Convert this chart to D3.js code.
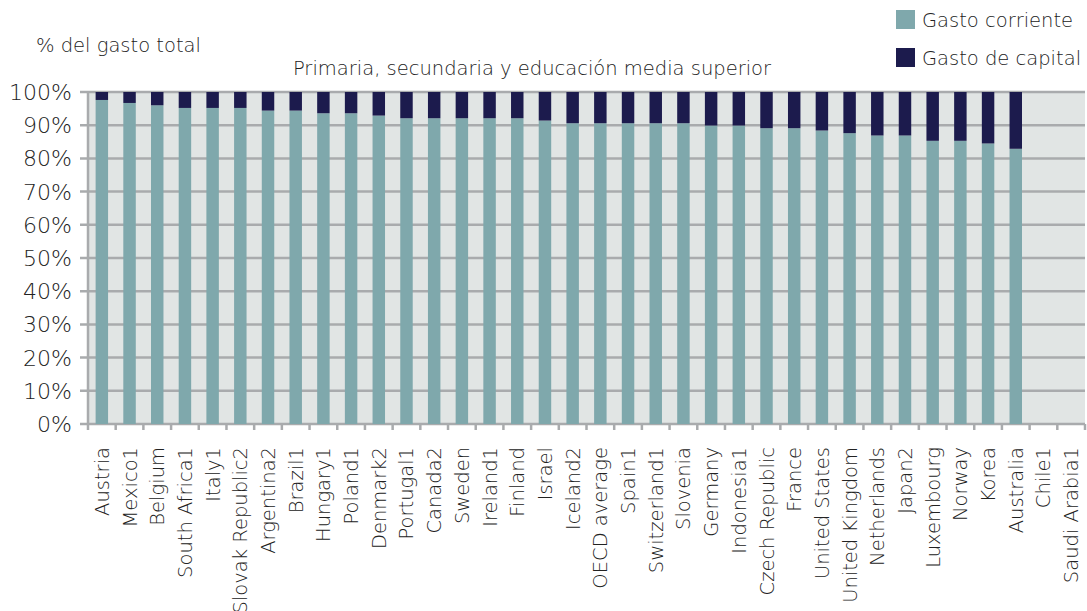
<!DOCTYPE html>
<html>
<head>
<meta charset="utf-8">
<script src="https://cdn.jsdelivr.net/npm/d3@7/dist/d3.min.js"></script>
<style>
  body { margin: 0; background: #fff; }
  svg text { font-family: 'DejaVu Sans', sans-serif; font-weight: 200; fill: #222; }
</style>
</head>
<body>
<svg id="chart" width="1087" height="611"></svg>
<script>
(function() {
    'use strict';

    var countries = ['Austria', 'Mexico1', 'Belgium', 'South Africa1', 'Italy1', 'Slovak Republic2',
        'Argentina2', 'Brazil1', 'Hungary1', 'Poland1', 'Denmark2', 'Portugal1', 'Canada2', 'Sweden',
        'Ireland1', 'Finland', 'Israel', 'Iceland2', 'OECD average', 'Spain1', 'Switzerland1', 'Slovenia',
        'Germany', 'Indonesia1', 'Czech Republic', 'France', 'United States', 'United Kingdom',
        'Netherlands', 'Japan2', 'Luxembourg', 'Norway', 'Korea', 'Australia', 'Chile1', 'Saudi Arabia1'];

    // gasto corriente, % del gasto total (null = sin dato)
    var corriente = [97.6, 96.7, 96.0, 95.2, 95.2, 95.2, 94.4, 94.4, 93.6, 93.6, 92.9, 92.1, 92.1, 92.1,
        92.1, 92.1, 91.4, 90.6, 90.6, 90.6, 90.6, 90.6, 89.9, 89.9, 89.1, 89.1, 88.4, 87.6, 86.9, 86.9,
        85.3, 85.3, 84.5, 82.9, null, null];

    var yTicks = [0, 10, 20, 30, 40, 50, 60, 70, 80, 90, 100];
    var seriesNames = ['Gasto corriente', 'Gasto de capital'];
    var colors = ['#7fa8ac', '#1c1b4d'];

    var margin = {top: 92, left: 88, right: 2, bottom: 188};
    var W = 1087, H = 611;

    var svg = d3.select('#chart');

    var x = d3.scaleBand()
        .domain(countries)
        .range([margin.left, W - margin.right])
        .paddingInner(0.55)
        .paddingOuter(0.275);

    var xb = d3.scaleBand()
        .domain(countries)
        .range([margin.left, W - margin.right]);

    var y = d3.scaleLinear()
        .domain([0, 100])
        .range([H - margin.bottom + 1, margin.top]);

    // plot background
    svg.append('rect')
        .attr('x', margin.left)
        .attr('y', y(100))
        .attr('width', W - margin.right - margin.left)
        .attr('height', y(0) - y(100))
        .attr('fill', '#e1e5e4');

    // gridlines + y ticks
    svg.append('g')
        .selectAll('line')
        .data(yTicks)
        .enter()
        .append('line')
        .attr('x1', margin.left - 8)
        .attr('x2', W - margin.right)
        .attr('y1', function(d) { return y(d); })
        .attr('y2', function(d) { return y(d); })
        .attr('stroke', '#a9abad')
        .attr('stroke-width', 2.5);

    svg.append('g')
        .selectAll('text')
        .data(yTicks)
        .enter()
        .append('text')
        .attr('x', 72)
        .attr('y', function(d) { return y(d) + 8; })
        .attr('text-anchor', 'end')
        .style('font-size', '22px')
        .text(function(d) { return d + '%'; });

    // y axis line
    svg.append('line')
        .attr('x1', margin.left).attr('x2', margin.left)
        .attr('y1', y(100)).attr('y2', y(0) + 6)
        .attr('stroke', '#a9abad')
        .attr('stroke-width', 2.5);

    // x ticks at band boundaries
    svg.append('g')
        .selectAll('line')
        .data(countries)
        .enter()
        .append('line')
        .attr('x1', function(d) { return xb(d) + xb.bandwidth(); })
        .attr('x2', function(d) { return xb(d) + xb.bandwidth(); })
        .attr('y1', y(0))
        .attr('y2', y(0) + 6)
        .attr('stroke', '#a9abad')
        .attr('stroke-width', 2.5);

    var withData = countries.filter(function(d, i) { return corriente[i] !== null; });

    // bars
    var bars = svg.append('g');
    bars.selectAll('rect.cor')
        .data(withData)
        .enter()
        .append('rect')
        .attr('class', 'cor')
        .attr('x', function(d) { return x(d); })
        .attr('width', x.bandwidth())
        .attr('y', function(d) { return y(corriente[countries.indexOf(d)]); })
        .attr('height', function(d) { return y(0) - y(corriente[countries.indexOf(d)]); })
        .attr('fill', colors[0]);

    bars.selectAll('rect.cap')
        .data(withData)
        .enter()
        .append('rect')
        .attr('class', 'cap')
        .attr('x', function(d) { return x(d); })
        .attr('width', x.bandwidth())
        .attr('y', y(100))
        .attr('height', function(d) { return y(corriente[countries.indexOf(d)]) - y(100); })
        .attr('fill', colors[1]);

    // x labels
    svg.append('g')
        .selectAll('text')
        .data(countries)
        .enter()
        .append('text')
        .attr('transform', function(d) {
            return 'translate(' + (xb(d) + xb.bandwidth() / 2 + 7) + ',' + (y(0) + 23) + ') rotate(-90)';
        })
        .attr('text-anchor', 'end')
        .style('font-size', '19.5px')
        .text(function(d) { return d; });

    // titles
    svg.append('text')
        .attr('x', 36).attr('y', 52)
        .style('font-size', '19.5px')
        .text('% del gasto total');

    svg.append('text')
        .attr('x', 532).attr('y', 75)
        .attr('text-anchor', 'middle')
        .style('font-size', '19.5px')
        .text('Primaria, secundaria y educación media superior');

    // legend
    var legend = svg.append('g')
        .selectAll('g')
        .data(seriesNames)
        .enter()
        .append('g')
        .attr('transform', function(d, i) { return 'translate(896,' + (10 + i * 38) + ')'; });
    legend.append('rect')
        .attr('width', 19).attr('height', 19)
        .attr('fill', function(d, i) { return colors[i]; });
    legend.append('text')
        .attr('x', 26).attr('y', 17)
        .style('font-size', '19.5px')
        .text(function(d) { return d; });
})();
</script>
</body>
</html>
